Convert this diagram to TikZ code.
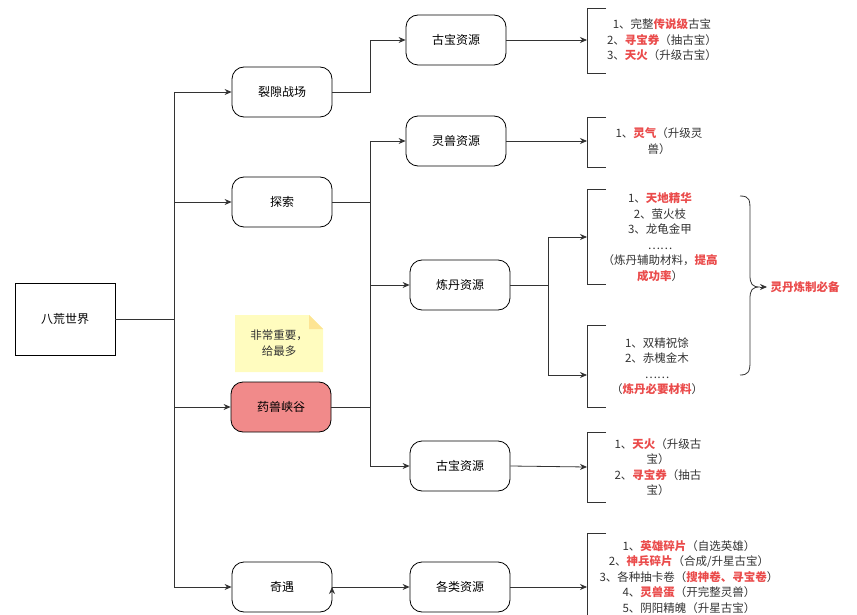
\documentclass[tikz,border=0pt]{standalone}
\usepackage{fontspec}
\setmainfont{Noto Sans CJK SC}
\usetikzlibrary{arrows.meta,positioning}
\definecolor{lc}{HTML}{333333}
\definecolor{rd}{HTML}{EA4B4B}
\newcommand{\rb}[1]{\textcolor{rd}{\bfseries #1}}
\tikzset{
  box/.style={draw=black,thick,rounded corners=12pt,minimum width=100pt,minimum height=50pt,font=\fontsize{12}{14}\selectfont,fill=white},
  ln/.style={draw=lc,thick},
  ar/.style={ln,-{Stealth[length=7pt,width=6pt]}},
  brk/.style={draw=lc,thick},
  txt/.style={font=\fontsize{11.5}{15.5}\selectfont,align=center,text=lc}
}
\begin{document}
\begin{tikzpicture}[x=1pt,y=-1pt]
\useasboundingbox (0,0) rectangle (857,615);
\node[box,rounded corners=0pt,minimum height=72pt] (root) at (65,319) {八荒世界};
\node[box] (lx) at (282,92) {裂隙战场};
\node[box] (ts) at (282,202) {探索};
\node[box,fill=rd!65] (ys) at (281,407) {药兽峡谷};
\node[box] (qy) at (282,587) {奇遇};
\node[box] (gb1) at (456,40) {古宝资源};
\node[box] (ls) at (456,141) {灵兽资源};
\node[box] (ld) at (460,285) {炼丹资源};
\node[box] (gb2) at (460,466) {古宝资源};
\node[box] (gl) at (460,587) {各类资源};
% note
\fill[yellow!25] (235,315) -- (309,315) -- (323,329) -- (323,372) -- (235,372) -- cycle;
\fill[yellow!55!orange!40] (309,315) -- (309,329) -- (323,329) -- cycle;
\node[font=\fontsize{11.5}{15.5}\selectfont,align=center,text=lc] (note) at (279,343) {非常重要，\\给最多};
% root connectors
\coordinate (j0) at (174,319);
\draw[ln] (root.east) -- (j0);
\draw[ln] (174,92) -- (174,587);
\draw[ar] (174,92) -- (lx.west);
\draw[ar] (174,202) -- (ts.west);
\draw[ar] (174,407) -- (ys.west);
\draw[ar] (174,587) -- (qy.west);
% level 2
\draw[ln] (lx.east) -- (370,92) -- (370,40);
\draw[ar] (370,40) -- (gb1.west);
\draw[ln] (ts.east) -- (370,202);
\draw[ln] (370,141) -- (370,285);
\draw[ar] (370,141) -- (ls.west);
\draw[ar] (370,285) -- (ld.west);
\draw[ln] (ys.east) -- (370,407);
\draw[ln] (370,285) -- (370,466);
\draw[ar] (370,466) -- (gb2.west);
\draw[ar] (gl.west -| 370,587) ++(-38,0) coordinate (gq) ;
\draw[ar] (qy.east) -- (gl.west);
% brackets
\coordinate (b1) at (587,40);
\coordinate (b2) at (587,141);
\coordinate (b3) at (587,237);
\coordinate (b4) at (587,375);
\coordinate (b5) at (587,467);
\coordinate (b6) at (587,587);
\draw[brk] (606,8) -- (587,8) -- (587,73) -- (606,73);
\draw[brk] (606,117) -- (587,117) -- (587,167) -- (606,167);
\draw[brk] (606,189) -- (587,189) -- (587,284) -- (606,284);
\draw[brk] (606,325) -- (587,325) -- (587,407) -- (606,407);
\draw[brk] (606,432) -- (587,432) -- (587,502) -- (606,502);
\draw[brk] (606,533) -- (587,533) -- (587,620) -- (606,620);
\draw[ar] (gb1.east) -- (b1);
\draw[ar] (ls.east) -- (b2);
\draw[ln] (ld.east) -- (548,285);
\draw[ln] (548,237) -- (548,375);
\draw[ar] (548,237) -- (b3);
\draw[ar] (548,375) -- (b4);
\draw[ar] (gb2.east) -- (b5);
\draw[ar] (gl.east) -- (b6);
% texts
\node[txt] (t1) at (662,40) {1、完整\rb{传说级}古宝\\2、\rb{寻宝券}（抽古宝）\\3、\rb{天火}（升级古宝）};
\node[txt] (t2) at (659,141) {1、\rb{灵气}（升级灵\\兽）};
\node[txt] (t3) at (660,237) {1、\rb{天地精华}\\2、萤火枝\\3、龙龟金甲\\……\\（炼丹辅助材料，\rb{提高}\\\rb{成功率}）};
\node[txt] (t4) at (657,366) {1、双精祝馀\\2、赤槐金木\\……\\（\rb{炼丹必要材料}）};
\node[txt] (t5) at (658,467) {1、\rb{天火}（升级古\\宝）\\2、\rb{寻宝券}（抽古\\宝）};
\node[txt,anchor=north] (t6) at (689,537) {1、\rb{英雄碎片}（自选英雄）\\2、\rb{神兵碎片}（合成/升星古宝）\\3、各种抽卡卷（\rb{搜神卷、寻宝卷}）\\4、\rb{灵兽蛋}（开完整灵兽）\\5、阴阳精魄（升星古宝）};
% curly brace
\draw[brk] (740,196) .. controls (750,196) and (750,200) .. (750,212) -- (750,275) .. controls (750,284) and (752,287) .. (760,287) .. controls (752,287) and (750,290) .. (750,299) -- (750,362) .. controls (750,372) and (748,375) .. (740,375);
\draw[ar] (760,287) -- (767,287);
\node[font=\fontsize{11.5}{14}\selectfont\bfseries,text=rd,anchor=west] (bt) at (767,287) {灵丹炼制必备};
\end{tikzpicture}
\end{document}
